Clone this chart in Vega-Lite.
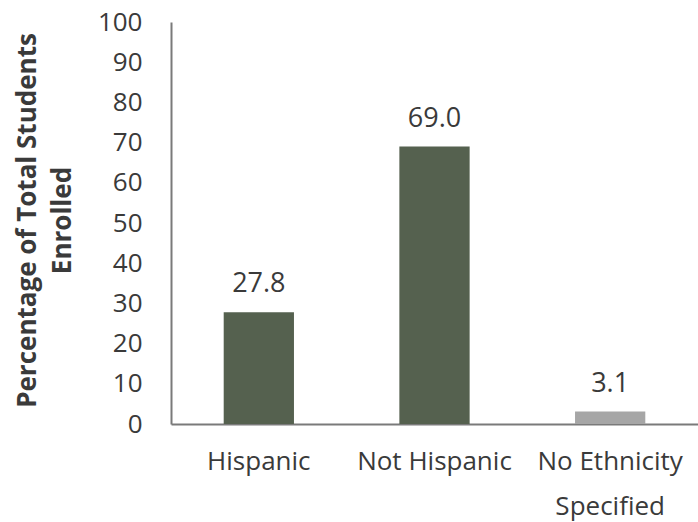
{
  "$schema": "https://vega.github.io/schema/vega-lite/v6.json",
  "autosize": "none",
  "width": 527,
  "height": 402,
  "padding": {"left": 171, "top": 22, "right": 0, "bottom": 98},
  "background": "white",
  "config": {
    "view": {"stroke": null},
    "font": "Open Sans"
  },
  "data": {
    "values": [
      {"category": "Hispanic", "pct": 27.8, "label": "27.8", "group": "known"},
      {"category": "Not Hispanic", "pct": 69.0, "label": "69.0", "group": "known"},
      {"category": "No Ethnicity Specified", "pct": 3.1, "label": "3.1", "group": "unknown"}
    ]
  },
  "encoding": {
    "x": {
      "field": "category",
      "type": "nominal",
      "sort": null,
      "scale": {"paddingInner": 0.6, "paddingOuter": 0.3},
      "axis": {
        "title": null,
        "labelAngle": 0,
        "ticks": false,
        "domainColor": "#7a7a7a",
        "domainWidth": 2,
        "labelFont": "Open Sans",
        "labelFontSize": 26,
        "labelColor": "#3a3a3a",
        "labelPadding": 24,
        "labelLimit": 0,
        "labelOverlap": false,
        "labelLineHeight": 45,
        "labelExpr": "datum.label == 'No Ethnicity Specified' ? ['No Ethnicity', 'Specified'] : datum.label"
      }
    },
    "y": {
      "field": "pct",
      "type": "quantitative",
      "scale": {"domain": [0, 100], "nice": false},
      "axis": {
        "values": [0, 10, 20, 30, 40, 50, 60, 70, 80, 90, 100],
        "grid": false,
        "ticks": false,
        "domainColor": "#7a7a7a",
        "domainWidth": 2,
        "labelFont": "Open Sans",
        "labelFontSize": 26,
        "labelColor": "#3a3a3a",
        "labelPadding": 29,
        "title": ["Percentage of Total Students", "Enrolled"],
        "titleFont": "Open Sans",
        "titleFontSize": 26,
        "titleFontWeight": "bold",
        "titleColor": "#3a3a3a",
        "titleLineHeight": 35,
        "titleX": -131,
        "titleY": 198,
        "titleAngle": -90,
        "titleAlign": "center",
        "titleBaseline": "bottom"
      }
    }
  },
  "layer": [
    {
      "mark": {"type": "bar"},
      "encoding": {
        "color": {
          "field": "group",
          "type": "nominal",
          "scale": {"domain": ["known", "unknown"], "range": ["#55614f", "#a6a6a6"]},
          "legend": null
        }
      }
    },
    {
      "mark": {"type": "text", "baseline": "alphabetic", "dy": -20, "font": "Open Sans", "fontSize": 27, "color": "#3a3a3a"},
      "encoding": {
        "text": {"field": "label", "type": "nominal"}
      }
    }
  ]
}
